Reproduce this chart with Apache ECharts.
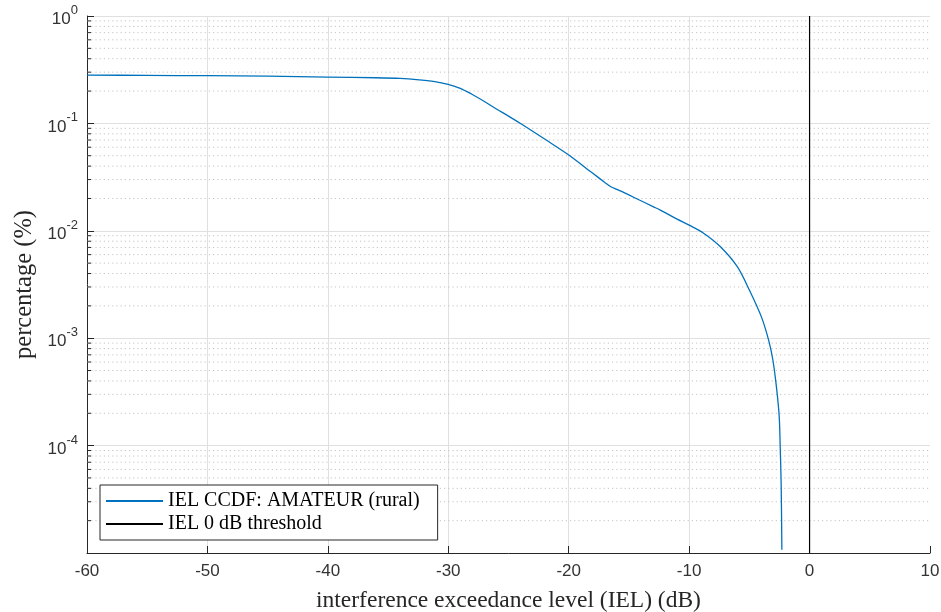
<!DOCTYPE html>
<html>
<head>
<meta charset="utf-8">
<title>IEL CCDF</title>
<script src="https://cdn.jsdelivr.net/npm/echarts@6/dist/echarts.min.js"></script>
<style>
  html, body { margin: 0; padding: 0; background: #ffffff; }
  #chart { width: 941px; height: 612px; }
</style>
</head>
<body>
<div id="chart"></div>
<script>
// Interference exceedance level (dB) and the matching exceedance percentage
const ielDb = [
  -60, -55, -50, -45, -40, -36, -34, -32.4, -31, -30, -29.5, -29, -28.5,
  -28, -27, -26, -25, -23.8, -22, -20, -18, -17, -16.5, -16, -15.7, -14.4,
  -13, -12.4, -11, -10, -8.8, -7.4, -6, -5, -4, -3.4, -3.05, -2.75, -2.52,
  -2.44, -2.36, -2.3
];
const ccdfPct = [
  0.282, 0.280, 0.278, 0.275, 0.270, 0.266, 0.262, 0.254, 0.244, 0.231,
  0.222, 0.212, 0.199, 0.186, 0.160, 0.136, 0.117, 0.0966, 0.0715, 0.0508,
  0.0343, 0.0282, 0.0257, 0.0243, 0.0235, 0.0200, 0.0168, 0.0156, 0.01285,
  0.0113, 0.0095, 0.0071, 0.00463, 0.00281, 0.00158, 0.00096, 0.00063,
  0.00035, 0.000186, 0.000098, 0.0000445, 0.0000107
];

// 0 dB threshold marker
const thresholdDb = [0, 0];
const thresholdPct = [1e-5, 1];

// Axis limits and tick settings
const xMin = -60, xMax = 10, xStep = 10;
const yMin = 1e-5, yMax = 1;
const minorMantissas = [2, 3, 4, 5, 6, 7, 8, 9];
const minorDecades = [-5, -4, -3, -2, -1];

const seriesNames = ['IEL CCDF: AMATEUR (rural)', 'IEL 0 dB threshold'];
const xTitle = 'interference exceedance level (IEL) (dB)';
const yTitle = 'percentage (%)';

const ccdfData = ielDb.map((x, i) => [x, ccdfPct[i]]);
const thresholdData = thresholdDb.map((x, i) => [x, thresholdPct[i]]);
const minorValues = [];
minorDecades.forEach(d => minorMantissas.forEach(m => minorValues.push([xMin, m * Math.pow(10, d)])));

const tickColor = '#333333';
const axisColor = '#262626';
const serif = '"Liberation Serif", "DejaVu Serif", serif';
const sans = '"Liberation Sans", Arial, sans-serif';

const chart = echarts.init(document.getElementById('chart'), null, { renderer: 'canvas' });

chart.setOption({
  backgroundColor: '#ffffff',
  animation: false,
  grid: { left: 87, right: 11, top: 16, bottom: 59, containLabel: false, outerBoundsMode: 'none' },
  legend: {
    orient: 'vertical',
    left: 100,
    top: 485,
    backgroundColor: '#ffffff',
    borderColor: axisColor,
    borderWidth: 1,
    borderRadius: 0,
    padding: [6, 18, 6, 6],
    itemGap: 3,
    itemWidth: 57,
    itemHeight: 2,
    icon: 'rect',
    textStyle: { fontFamily: serif, fontSize: 20, color: '#000000', lineHeight: 19 },
    data: seriesNames
  },
  xAxis: {
    type: 'value',
    min: xMin,
    max: xMax,
    interval: xStep,
    name: xTitle,
    nameLocation: 'middle',
    nameGap: 36,
    nameTextStyle: { fontFamily: serif, fontSize: 23.5, color: axisColor },
    axisLine: { onZero: false, lineStyle: { color: axisColor, width: 1 } },
    axisTick: { inside: true, length: 7, lineStyle: { color: axisColor } },
    axisLabel: { fontFamily: sans, fontSize: 17, color: tickColor, margin: 10, showMinLabel: true, showMaxLabel: true },
    splitLine: { show: true, showMinLine: false, showMaxLine: false, lineStyle: { color: '#e0e0e0', width: 1 } }
  },
  yAxis: {
    type: 'log',
    logBase: 10,
    min: yMin,
    max: yMax,
    name: yTitle,
    nameLocation: 'middle',
    nameRotate: 90,
    nameGap: 50,
    nameTextStyle: { fontFamily: serif, fontSize: 24.5, color: axisColor },
    axisLine: { onZero: false, lineStyle: { color: axisColor, width: 1 } },
    axisTick: { inside: true, length: 7, lineStyle: { color: axisColor } },
    axisLabel: {
      margin: 9,
      formatter: function (v) {
        const e = Math.round(Math.log10(v));
        if (e <= -5) return '';
        return '{b|10}{s|' + e + '}';
      },
      rich: {
        b: { fontFamily: sans, fontSize: 17, color: tickColor, lineHeight: 24, verticalAlign: 'bottom' },
        s: { fontFamily: sans, fontSize: 13, color: tickColor, lineHeight: 13, verticalAlign: 'top' }
      }
    },
    splitLine: { show: true, lineStyle: { color: '#e0e0e0', width: 1 } }
  },
  series: [
    {
      // dotted minor grid and minor ticks at 2..9 of each decade
      type: 'custom',
      silent: true,
      z: 1,
      data: minorValues,
      encode: { x: 0, y: 1 },
      renderItem: function (params, api) {
        const v = api.value(1);
        const p0 = api.coord([xMin, v]);
        const p1 = api.coord([xMax, v]);
        return {
          type: 'group',
          children: [
            {
              type: 'line',
              shape: { x1: p0[0], y1: p0[1], x2: p1[0], y2: p1[1] },
              style: { stroke: '#c4c4c4', lineWidth: 1, lineDash: [1.2, 3] }
            },
            {
              type: 'line',
              shape: { x1: p0[0], y1: p0[1], x2: p0[0] + 4, y2: p0[1] },
              style: { stroke: axisColor, lineWidth: 1 }
            }
          ]
        };
      }
    },
    {
      name: seriesNames[0],
      type: 'line',
      data: ccdfData,
      showSymbol: false,
      symbol: 'none',
      smooth: 0.3,
      z: 3,
      lineStyle: { color: '#0072BD', width: 1.3 },
      itemStyle: { color: '#0072BD' }
    },
    {
      name: seriesNames[1],
      type: 'line',
      data: thresholdData,
      showSymbol: false,
      symbol: 'none',
      z: 3,
      lineStyle: { color: '#000000', width: 1.2 },
      itemStyle: { color: '#000000' }
    }
  ]
});
</script>
</body>
</html>
